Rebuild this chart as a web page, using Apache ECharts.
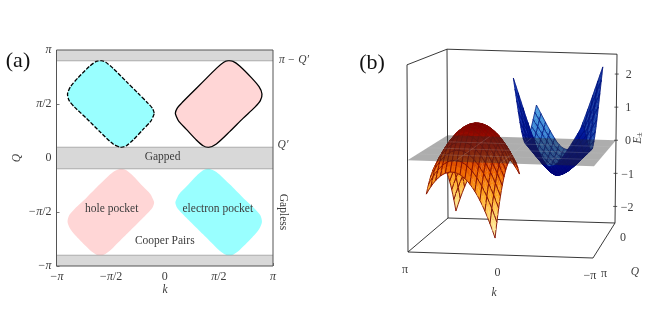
<!DOCTYPE html>
<html><head><meta charset="utf-8">
<style>html,body{margin:0;padding:0;background:#fff}#c{width:669px;height:310px}</style>
<script src="https://cdn.jsdelivr.net/npm/echarts@6/dist/echarts.min.js"></script>
</head><body><div id="c"></div>
<script>
const PI = Math.PI;
/* ---------- panel (a) data, all k and Q in units of pi ---------- */
const axisTickLabels = ['{i|−π}', '{i|−π}{n|/2}', '{n|0}', '{i|π}{n|/2}', '{i|π}'];
const gapBands = [[0.9, 1], [-0.1, 0.1], [-1, -0.9]];
const dottedEdges = [0.9, 0.1, -0.1, -0.9];
const pocketK = [.098,.114,.154,.246,.354,.477,.545,.585,.631,.692,.8,.871,.898,.883,.831,.723,.6,.477,.406,.354,.292,.2,.132,.108];
const pocketQ = [.414,.46,.506,.599,.707,.83,.886,.901,.895,.852,.744,.66,.593,.531,.469,.367,.244,.13,.099,.114,.167,.265,.336,.383];
const pocketSigns = [[1,1],[-1,1],[-1,-1],[1,-1]];
const pocketFills = ['#ffd6d6','#99ffff','#ffd6d6','#99ffff'];
const pocketDashes = ['solid','dash',null,null];
const pocketNotes = [['hole pocket',-0.49,-0.47],['electron pocket',0.49,-0.47],['Cooper Pairs',0,-0.77],['Gapped',-0.02,0.012]];

/* ---------- panel (b) data ---------- */
const sGrid = [-1,-.9286,-.8571,-.7857,-.7143,-.6429,-.5714,-.5,-.4286,-.3571,-.2857,-.2143,-.1429,-.0714,0,.0714,.1429,.2143,.2857,.3571,.4286,.5,.5714,.6429,.7143,.7857,.8571,.9286,1];
const tGrid = [-1,-.9286,-.8571,-.7857,-.7143,-.6429,-.5714,-.5,-.4286,-.3571,-.2857,-.2143,-.1429,-.0714,0,.0714,.1429,.2143,.2857,.3571,.4286,.5,.5714,.6429,.7143,.7857,.8571,.9286,1];
// red band: crest height, curvature, tilt and the profile across the sheet
const redCrest = [-.46,-.293,-.138,.005,.137,.257,.366,.463,.548,.621,.683,.734,.772,.8,.815,.819,.811,.792,.761,.718,.663,.598,.52,.431,.33,.217,.093,-.043,-.19];
const redCurve = [-1.14,-1.14,-1.14,-1.14,-1.14,-1.14,-1.14,-1.14,-1.14,-1.14,-1.14,-1.14,-1.14,-1.14,-1.14,-1.14,-1.14,-1.14,-1.14,-1.14,-1.14,-1.14,-1.14,-1.14,-1.14,-1.14,-1.14,-1.14,-1.14];
const redTilt = [-.38,-.339,-.299,-.258,-.217,-.176,-.136,-.095,-.054,-.014,.027,.068,.109,.149,.19,.231,.271,.312,.353,.394,.434,.475,.516,.557,.597,.638,.679,.719,.76];
const redProfile = [1,.862,.735,.617,.51,.413,.327,.25,.184,.128,.082,.046,.02,.005,0,.005,.02,.046,.082,.128,.184,.25,.327,.413,.51,.617,.735,.862,1];
const redCornerK = [.96,.768,-.08,.076];   // (s-,t-), (s+,t-), (s+,t+), (s-,t+)
const redCornerQ = [.25,-.4,.25,.9];
// blue band
const blueFloor = [.035,-.036,-.109,-.18,-.252,-.324,-.392,-.46,-.523,-.586,-.635,-.679,-.712,-.738,-.75,-.728,-.694,-.651,-.597,-.54,-.467,-.395,-.318,-.24,-.16,-.078,.003,.084,.165];
const blueCurve = [1.505,1.414,1.324,1.233,1.143,1.052,.968,.882,.802,.721,.658,.601,.555,.52,.5,.52,.555,.601,.658,.721,.802,.882,.968,1.052,1.143,1.233,1.324,1.414,1.505];
const blueTilt = [-.48,-.436,-.392,-.348,-.304,-.26,-.216,-.173,-.129,-.085,-.041,.003,.047,.091,.135,.179,.223,.267,.311,.354,.399,.443,.486,.53,.574,.618,.662,.706,.75];
const blueProfile = [1,.91,.82,.73,.64,.55,.465,.38,.30,.22,.158,.10,.055,.02,0,.02,.055,.10,.158,.22,.30,.38,.465,.55,.64,.73,.82,.91,1];
const blueCornerK = [.07,-.09,-.94,-.804];
const blueCornerQ = [-.2,-.8,-.2,.4];
const energyTicks = [2,1,0,-1,-2];
const energyLabels = ['2','1','0','−1','−2'];
const kTicks3d = [1,0,-1];
const kLabels3d = ['π','0','−π'];
const qTicks3d = [1,0];
const qLabels3d = ['π','0'];
const planeLinesK = [0.5,0,-0.5];
const planeLinesQ = [0.5,0,-0.5];
const eMin = -2.5, eMax = 2.6;

/* ---------- view of the 3D box ---------- */
function project(k, Q, E) {
  const f = (1 - k) / 2, g = (1 - Q) / 2;
  const xF = 408 + 185 * f, xB = 448 + 167 * f, yF = 252 + 6 * f, yB = 218 + 5 * f;
  return [xF + (xB - xF) * g + (E - eMin) / (eMax - eMin) * (-1 + 3 * f),
          yF + (yB - yF) * g - (E - eMin) * (36.7 - 3.6 * g)];
}
function bilinear(c, s, t) {
  const a = (1 - s) / 2, b = (1 - t) / 2;
  return c[0] * a * b + c[1] * (1 - a) * b + c[2] * (1 - a) * (1 - b) + c[3] * a * (1 - b);
}
function sheetEnergy(sh, i, j) { return sh.m[j] + sh.d[j] * sh.w[i] + sh.p[j] * sGrid[i]; }
function sheetNode(sh, i, j) {
  const s = sGrid[i], t = tGrid[j];
  return project(bilinear(sh.k, s, t), bilinear(sh.q, s, t), sheetEnergy(sh, i, j));
}

const SERIF = '"Liberation Serif", serif';
const INK = '#3c3c3c';
const redStops = ['#fff6c4','#ffdc78','#ffa824','#ee6400','#b21a00','#7e0000'];
const blueStops = ['#00007a','#001496','#0a2cae','#1238b8'];
const blueInnerStops = ['#0a2c9a','#2a6cc8','#4a9fe0'];
const CELLS = sGrid.length - 1;

/* cells painted from the far side of the box to the near side */
function cellsFor(sh) {
  const out = [];
  for (let i = 0; i < CELLS; i++) for (let j = 0; j < CELLS; j++) out.push([i, j]);
  const depth = c => bilinear(sh.q, (sGrid[c[0]] + sGrid[c[0] + 1]) / 2, (tGrid[c[1]] + tGrid[c[1] + 1]) / 2);
  return out.sort((a, b) => depth(a) - depth(b));
}
const redSheet = {k: redCornerK, q: redCornerQ, m: redCrest, d: redCurve, p: redTilt, w: redProfile};
const blueSheet = {k: blueCornerK, q: blueCornerQ, m: blueFloor, d: blueCurve, p: blueTilt, w: blueProfile};

function sheetSeries(sh, paint, meshColor, meshWidth) {
  return {type: 'custom', xAxisIndex: 1, yAxisIndex: 1, silent: true, animation: false, progressive: 0, z: 5,
    data: cellsFor(sh),
    renderItem(params, api) {
      const i = api.value(0), j = api.value(1);
      const pts = [sheetNode(sh,i,j), sheetNode(sh,i+1,j), sheetNode(sh,i+1,j+1), sheetNode(sh,i,j+1)].map(p => api.coord(p));
      const e = (sheetEnergy(sh,i,j) + sheetEnergy(sh,i+1,j) + sheetEnergy(sh,i+1,j+1) + sheetEnergy(sh,i,j+1)) / 4;
      let area = 0;
      for (let n = 0; n < 4; n++) { const a = pts[n], b = pts[(n+1)%4]; area += a[0]*b[1] - b[0]*a[1]; }
      const fill = paint(e, area, i, j);
      const kids = [{type: 'polygon', shape: {points: pts}, style: {fill, stroke: fill, lineWidth: 0.3}}];
      if (j % 2 === 0) kids.push(lineItem(pts[0], pts[1], meshColor, meshWidth));
      if ((j + 1) % 2 === 0) kids.push(lineItem(pts[3], pts[2], meshColor, meshWidth));
      if (i % 2 === 0) kids.push(lineItem(pts[0], pts[3], meshColor, meshWidth));
      if ((i + 1) % 2 === 0) kids.push(lineItem(pts[1], pts[2], meshColor, meshWidth));
      return {type: 'group', children: kids};
    }};
}
const clamp01 = v => Math.min(1, Math.max(0, v));
const redPaint = (e) => echarts.color.lerp(clamp01((e + 2.2) / 3.0), redStops);
const bluePaint = (e, area, i, j) => {
  if (area <= 0) return echarts.color.lerp(clamp01((e + 0.6) / 3), blueStops);
  const nearFarCorner = clamp01(1 - ((CELLS - i) + j) / CELLS * 1.1);
  const nearNearCorner = clamp01(1 - (i + (CELLS - j)) / CELLS * 1.1) * 0.55;
  return echarts.color.lerp(Math.max(nearFarCorner, nearNearCorner), blueInnerStops);
};

function textItem(api, x, y, text, size, rot, extra) {
  return Object.assign({type: 'text', x, y, rotation: rot || 0, silent: true,
    style: {text, fill: INK, font: (size||11) + 'px ' + SERIF, align: 'center', verticalAlign: 'middle'}}, extra||{});
}
function lineItem(a, b, stroke, w, dash) {
  return {type: 'line', shape: {x1: a[0], y1: a[1], x2: b[0], y2: b[1]}, style: {stroke, lineWidth: w, lineDash: dash || null}};
}

const series = [];
/* bands */
series.push({type: 'custom', xAxisIndex: 0, yAxisIndex: 0, silent: true, animation: false, z: 2, data: gapBands,
  renderItem(params, api) {
    const a = api.coord([-PI, api.value(0) * PI]), b = api.coord([PI, api.value(1) * PI]);
    return {type: 'rect', shape: {x: a[0], y: b[1], width: b[0] - a[0], height: a[1] - b[1]}, style: {fill: '#d8d8d8'}};
  }});
/* pockets */
pocketSigns.forEach((sg, n) => {
  const pts = pocketK.map((k, m) => [sg[0] * k * PI, sg[1] * pocketQ[m] * PI]);
  series.push({type: 'custom', xAxisIndex: 0, yAxisIndex: 0, silent: true, animation: false, z: 3, data: pts,
    renderItem(params, api) {
      if (params.dataIndex !== 0) return null;
      const poly = pts.map(p => api.coord(p));
      const style = {fill: pocketFills[n]};
      if (pocketDashes[n]) { style.stroke = '#000'; style.lineWidth = 1.3; style.lineDash = pocketDashes[n] === 'dash' ? [4, 1.6] : null; }
      return {type: 'polygon', shape: {points: poly, smooth: 0.25}, style};
    }});
});
/* dotted band edges */
series.push({type: 'custom', xAxisIndex: 0, yAxisIndex: 0, silent: true, animation: false, z: 4, data: dottedEdges,
  renderItem(params, api) {
    return lineItem(api.coord([-PI, api.value(0) * PI]), api.coord([PI, api.value(0) * PI]), '#6e6e6e', 1, [1, 1]);
  }});
/* frame */
series.push({type: 'custom', xAxisIndex: 0, yAxisIndex: 0, silent: true, animation: false, z: 4, data: [[-PI, PI]],
  renderItem(params, api) {
    const a = api.coord([-PI, PI]), b = api.coord([PI, -PI]);
    return {type: 'rect', shape: {x: a[0], y: a[1], width: b[0] - a[0], height: b[1] - a[1]}, style: {fill: 'none', stroke: '#555', lineWidth: 1}};
  }});
/* notes in panel (a) */
series.push({type: 'custom', xAxisIndex: 0, yAxisIndex: 0, silent: true, animation: false, z: 6, data: pocketNotes.map((_, i) => i),
  renderItem(params, api) {
    const nt = pocketNotes[params.dataIndex];
    const p = api.coord([nt[1] * PI, nt[2] * PI]);
    return textItem(api, p[0], p[1], nt[0], 11.5);
  }});
/* 3D box */
const boxEdges = [
  [[1,1,eMin],[-1,1,eMin]], [[1,1,eMin],[1,-1,eMin]], [[1,-1,eMin],[-1,-1,eMin]], [[-1,1,eMin],[-1,-1,eMin]],
  [[1,1,eMin],[1,1,eMax]], [[1,-1,eMin],[1,-1,eMax]], [[-1,-1,eMin],[-1,-1,eMax]],
  [[1,1,eMax],[1,-1,eMax]], [[1,-1,eMax],[-1,-1,eMax]]];
series.push({type: 'custom', xAxisIndex: 1, yAxisIndex: 1, silent: true, animation: false, z: 4, data: boxEdges.map((_, i) => i),
  renderItem(params, api) {
    const e = boxEdges[params.dataIndex];
    return lineItem(api.coord(project(e[0][0], e[0][1], e[0][2])), api.coord(project(e[1][0], e[1][1], e[1][2])), '#222', 0.9);
  }});
series.push(sheetSeries(redSheet, redPaint, '#800c04', 0.9));
series.push(sheetSeries(blueSheet, bluePaint, '#000e78', 0.7));
/* zero-energy plane */
series.push({type: 'custom', xAxisIndex: 1, yAxisIndex: 1, silent: true, animation: false, z: 7, data: [0],
  renderItem(params, api) {
    const c = [[1,1],[-1,1],[-1,-1],[1,-1]].map(a => api.coord(project(a[0], a[1], 0)));
    const kids = [{type: 'polygon', shape: {points: c}, style: {fill: 'rgba(40,40,40,0.38)'}}];
    planeLinesK.forEach(k => kids.push(lineItem(api.coord(project(k,1,0)), api.coord(project(k,-1,0)), 'rgba(200,200,200,0.3)', 0.6)));
    planeLinesQ.forEach(q => kids.push(lineItem(api.coord(project(1,q,0)), api.coord(project(-1,q,0)), 'rgba(200,200,200,0.3)', 0.6)));
    return {type: 'group', children: kids};
  }});
/* 3D energy axis ticks and labels */
series.push({type: 'custom', xAxisIndex: 1, yAxisIndex: 1, silent: true, animation: false, z: 8, data: energyTicks,
  renderItem(params, api) {
    const e = api.value(0);
    const p = api.coord(project(-1, -1, e));
    return {type: 'group', children: [
      lineItem([p[0] - 2, p[1]], [p[0] + 2, p[1]], '#333', 0.8),
      textItem(api, p[0] + 12, p[1] + 1, energyLabels[params.dataIndex], 12)]};
  }});
series.push({type: 'custom', xAxisIndex: 1, yAxisIndex: 1, silent: true, animation: false, z: 8, data: kTicks3d,
  renderItem(params, api) {
    const p = api.coord(project(api.value(0), 1, eMin));
    return textItem(api, p[0] - 3, p[1] + 18, kLabels3d[params.dataIndex], 12);
  }});
const qOffsets = [[11, 16], [19, -3]];
series.push({type: 'custom', xAxisIndex: 1, yAxisIndex: 1, silent: true, animation: false, z: 8, data: qTicks3d,
  renderItem(params, api) {
    const p = api.coord(project(-1, api.value(0), eMin));
    const o = qOffsets[params.dataIndex];
    return textItem(api, p[0] + o[0], p[1] + o[1], qLabels3d[params.dataIndex], 12);
  }});

const piAxisLabel = {
  color: INK, fontFamily: SERIF, fontSize: 12, margin: 5, hideOverlap: false,
  formatter: v => axisTickLabels[Math.round(v / (PI / 2)) + 2],
  rich: {i: {fontFamily: SERIF, fontStyle: 'italic', fontSize: 12, color: INK}, n: {fontFamily: SERIF, fontSize: 12, color: INK}}
};
const ax0 = {type: 'value', min: -PI, max: PI, interval: PI / 2, splitLine: {show: false},
  axisLine: {show: false, onZero: false}, axisTick: {show: true, inside: true, length: 3, lineStyle: {color: '#555', width: 0.8}},
  axisLabel: piAxisLabel};
const hidden = {type: 'value', show: false, gridIndex: 1, splitLine: {show: false}};

const txt = (x, y, text, size, opts) => Object.assign({type: 'text', x, y, silent: true,
  style: {text, fill: (opts && opts.fill) || INK, font: (opts && opts.italic ? 'italic ' : '') + size + 'px ' + SERIF, align: 'center', verticalAlign: 'middle'}},
  opts && opts.rotation !== undefined ? {rotation: opts.rotation} : {});

const chart = echarts.init(document.getElementById('c'), null, {renderer: 'canvas'});
chart.setOption({
  animation: false, backgroundColor: '#fff',
  grid: [{left: 56.5, top: 50, width: 216.5, height: 216}, {left: 0, top: 0, width: 669, height: 310}],
  xAxis: [Object.assign({gridIndex: 0}, ax0), Object.assign({min: 0, max: 669}, hidden)],
  yAxis: [Object.assign({gridIndex: 0}, ax0), Object.assign({min: 0, max: 310, inverse: true}, hidden)],
  series,
  graphic: [
    txt(18, 61, '(a)', 22, {fill: '#111'}),
    txt(372, 63, '(b)', 22, {fill: '#111'}),
    txt(17, 158, 'Q', 11.5, {italic: true, rotation: PI / 2}),
    txt(165, 290, 'k', 11.5, {italic: true}),
    txt(294, 60, 'π − Q′', 11.5, {italic: true}),
    txt(283, 145, 'Q′', 11.5, {italic: true}),
    txt(283, 212, 'Gapless', 11.5, {rotation: -PI / 2}),
    txt(494, 293, 'k', 11.5, {italic: true}),
    txt(635, 272, 'Q', 11.5, {italic: true}),
    {type: 'text', x: 638, y: 138, rotation: PI / 2, silent: true,
      style: {text: '{a|E}{b|±}', align: 'center', verticalAlign: 'middle',
        rich: {a: {font: 'italic 11.5px ' + SERIF, fill: INK}, b: {font: '8px ' + SERIF, fill: INK, verticalAlign: 'bottom', padding: [4, 0, 0, 0]}}}}
  ]
});
</script></body></html>
